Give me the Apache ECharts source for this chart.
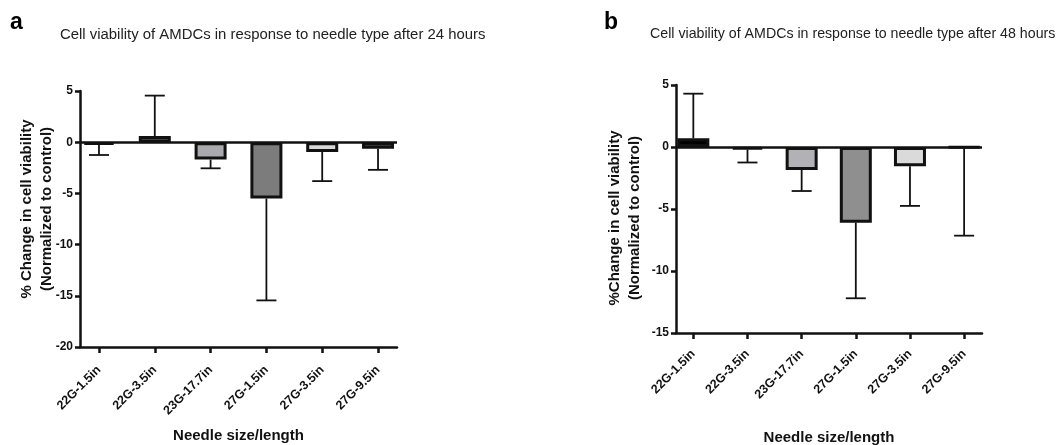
<!DOCTYPE html>
<html>
<head>
<meta charset="utf-8">
<script src="https://cdn.jsdelivr.net/npm/echarts@6/dist/echarts.min.js"></script>
<style>html,body{margin:0;padding:0;background:#fff}#c{width:1062px;height:445px}</style>
</head>
<body>
<div id="c"></div>
<script>
var categories = ['22G-1.5in', '22G-3.5in', '23G-17.7in', '27G-1.5in', '27G-3.5in', '27G-9.5in'];
var means24 = [-0.25, 0.6, -1.7, -5.5, -0.95, -0.65];
var sd24 = [1.0, 3.95, 0.85, 9.95, 2.85, 2.05];
var means48 = [0.7, -0.2, -1.85, -6.1, -1.55, -0.05];
var sd48 = [3.6, 1.05, 1.7, 6.1, 3.2, 7.1];
var yTicks24 = [-20, -15, -10, -5, 0, 5];
var yTicks48 = [-15, -10, -5, 0, 5];
var colors24 = ['#151515', '#cfcfcf', '#a9a9ae', '#7c7c7c', '#d8d8d8', '#5c5c5c'];
var colors48 = ['#000000', '#222222', '#b1b1b6', '#8f8f8f', '#dadada', '#9a9a9a'];

var FONT = 'Liberation Sans, Arial, Helvetica, sans-serif';
var INK = '#111';
var chart = echarts.init(document.getElementById('c'), null, {renderer: 'canvas'});

function barData(means, cols) {
  return means.map(function (v, i) {
    return {value: [i, v], itemStyle: {color: cols[i]}};
  });
}
function errData(means, sds) {
  return means.map(function (v, i) { return [i, v, v >= 0 ? v + sds[i] : v - sds[i]]; });
}
function renderErr(params, api) {
  var p0 = api.coord([api.value(0), api.value(1)]);
  var p1 = api.coord([api.value(0), api.value(2)]);
  var half = 10;
  var st = {stroke: INK, lineWidth: 1.8};
  return {type: 'group', children: [
    {type: 'line', shape: {x1: p0[0], y1: p0[1], x2: p1[0], y2: p1[1]}, style: st},
    {type: 'line', shape: {x1: p1[0] - half, y1: p1[1], x2: p1[0] + half, y2: p1[1]}, style: st}
  ]};
}
function xAxisCfg(gi, mn, mx, gap, lm) {
  return {
    gridIndex: gi, type: 'value', min: mn, max: mx,
    name: 'Needle size/length', nameLocation: 'middle', nameGap: gap, nameMoveOverlap: false,
    nameTextStyle: {fontFamily: FONT, fontWeight: 'bold', fontSize: 15, color: INK},
    axisLine: {onZero: false, lineStyle: {color: INK, width: 2.5}},
    axisTick: {customValues: [0, 1, 2, 3, 4, 5], length: 6, lineStyle: {color: INK, width: 2.5}},
    axisLabel: {customValues: [0, 1, 2, 3, 4, 5], rotate: 45, margin: lm,
      fontFamily: FONT, fontWeight: 'bold', fontSize: 12.5, color: INK,
      formatter: function (v) { return categories[Math.round(v)]; }},
    splitLine: {show: false}
  };
}
function yAxisCfg(gi, ticks, gap, pad) {
  return {
    gridIndex: gi, type: 'value', min: ticks[0], max: ticks[ticks.length - 1], interval: 5,
    name: gi === 0 ? '% Change in cell viability\n(Normalized to control)' : '%Change in cell viability\n(Normalized to control)',
    nameLocation: 'middle', nameGap: gap, nameRotate: 90, nameMoveOverlap: false,
    nameTextStyle: {fontFamily: FONT, fontWeight: 'bold', fontSize: 15, color: INK, lineHeight: 20, padding: pad},
    axisLine: {show: true, onZero: false, lineStyle: {color: INK, width: 2.5}},
    axisTick: {show: true, length: 5, lineStyle: {color: INK, width: 2.5}},
    axisLabel: {fontFamily: FONT, fontWeight: 'bold', fontSize: 12, color: INK, margin: 7},
    splitLine: {show: false}
  };
}
function zeroLine() {
  return {silent: true, symbol: 'none', label: {show: false},
    lineStyle: {color: INK, width: 2.5, type: 'solid'}, data: [{yAxis: 0}]};
}

chart.setOption({
  animation: false,
  backgroundColor: '#fff',
  title: [
    {text: 'Cell viability of AMDCs in response to needle type after 24 hours', left: 55, top: 22,
      textStyle: {fontFamily: FONT, fontWeight: 'normal', fontSize: 14.9, color: '#222'}},
    {text: 'Cell viability of AMDCs in response to needle type after 48 hours', left: 645, top: 22,
      textStyle: {fontFamily: FONT, fontWeight: 'normal', fontSize: 14.2, color: '#222'}},
    {text: 'a', left: 5, top: 6, textStyle: {fontFamily: FONT, fontWeight: 'bold', fontSize: 23, color: '#000'}},
    {text: 'b', left: 599, top: 6, textStyle: {fontFamily: FONT, fontWeight: 'bold', fontSize: 23, color: '#000'}}
  ],
  grid: [
    {left: 80, top: 91, width: 317, height: 256, outerBoundsMode: 'none', containLabel: false},
    {left: 676, top: 85, width: 306, height: 248, outerBoundsMode: 'none', containLabel: false}
  ],
  xAxis: [xAxisCfg(0, -0.34, 5.34, 81, 21), xAxisCfg(1, -0.32, 5.33, 97, 19)],
  yAxis: [yAxisCfg(0, yTicks24, 23, [0, 0, 0, 20]), yAxisCfg(1, yTicks48, 31, [0, 18, 0, 0])],
  series: [
    {type: 'bar', xAxisIndex: 0, yAxisIndex: 0, barWidth: 32, data: barData(means24, colors24),
      itemStyle: {borderColor: INK, borderWidth: 3}, markLine: zeroLine(), z: 2},
    {type: 'custom', xAxisIndex: 0, yAxisIndex: 0, data: errData(means24, sd24), renderItem: renderErr, z: 3},
    {type: 'bar', xAxisIndex: 1, yAxisIndex: 1, barWidth: 32, data: barData(means48, colors48),
      itemStyle: {borderColor: INK, borderWidth: 3}, markLine: zeroLine(), z: 2},
    {type: 'custom', xAxisIndex: 1, yAxisIndex: 1, data: errData(means48, sd48), renderItem: renderErr, z: 3}
  ]
});
</script>
</body>
</html>
